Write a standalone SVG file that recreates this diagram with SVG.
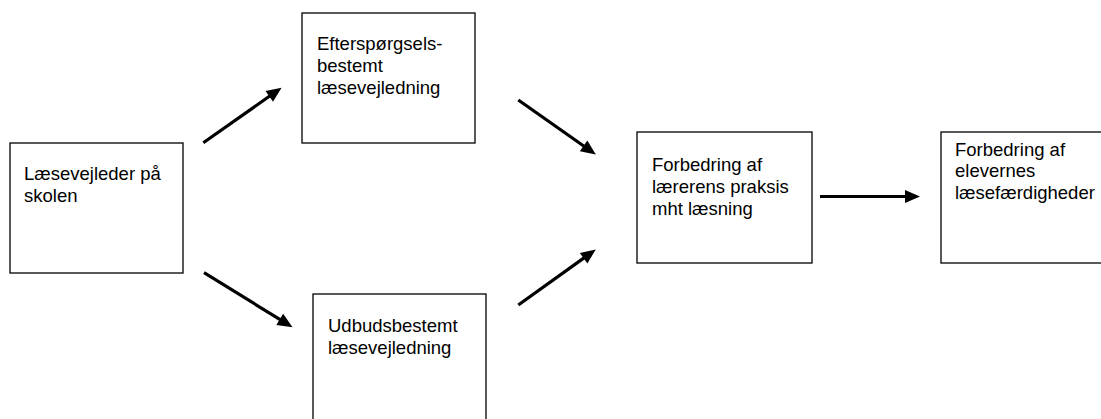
<svg xmlns="http://www.w3.org/2000/svg" width="1101" height="419" viewBox="0 0 1101 419">
<style>
.box{fill:#fff;stroke:#000;stroke-width:1.3}
.lbl{font-family:"Liberation Sans",Arial,sans-serif;font-size:18.5px;fill:#000}
.conn{stroke:#000;stroke-width:3.2;fill:none;marker-end:url(#ah)}
</style>
<defs>
<marker id="ah" markerUnits="userSpaceOnUse" markerWidth="16" markerHeight="14" refX="1" refY="7" orient="auto" overflow="visible">
<path d="M0,0.5 L15,7 L0,13.5 z" fill="#000"/>
</marker>
</defs>
<rect width="1101" height="419" fill="#fff"/>
<g id="n1">
<rect class="box" x="10" y="143" width="173" height="130"/>
<text class="lbl" x="24" y="180">Læsevejleder på</text>
<text class="lbl" x="24" y="202">skolen</text>
</g>
<g id="n2">
<rect class="box" x="302" y="13" width="173" height="130"/>
<text class="lbl" x="317" y="50">Efterspørgsels-</text>
<text class="lbl" x="317" y="72">bestemt</text>
<text class="lbl" x="317" y="94">læsevejledning</text>
</g>
<g id="n3">
<rect class="box" x="313" y="294" width="173" height="135"/>
<text class="lbl" x="328" y="332">Udbudsbestemt</text>
<text class="lbl" x="328" y="354">læsevejledning</text>
</g>
<g id="n4">
<rect class="box" x="637" y="132" width="175" height="131"/>
<text class="lbl" x="652" y="171">Forbedring af</text>
<text class="lbl" x="652" y="193">lærerens praksis</text>
<text class="lbl" x="652" y="215">mht læsning</text>
</g>
<g id="n5">
<rect class="box" x="941" y="132" width="175" height="131"/>
<text class="lbl" x="955" y="156">Forbedring af</text>
<text class="lbl" x="955" y="177">elevernes</text>
<text class="lbl" x="955" y="199">læsefærdigheder</text>
</g>
<g id="connectors">
<line class="conn" x1="203.3" y1="142.7" x2="270.1" y2="95.8"/>
<line class="conn" x1="204" y1="272.7" x2="280.6" y2="319.9"/>
<line class="conn" x1="518.3" y1="100" x2="584.4" y2="146.5"/>
<line class="conn" x1="518.3" y1="305" x2="584.4" y2="257.6"/>
<line class="conn" x1="820" y1="196.5" x2="906" y2="196.5"/>
</g>
</svg>
